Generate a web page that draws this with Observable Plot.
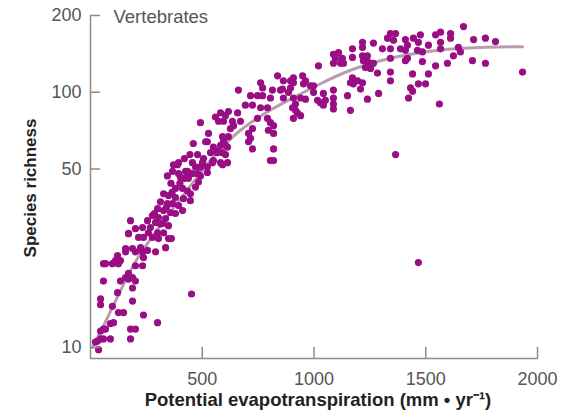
<!DOCTYPE html>
<html><head><meta charset="utf-8">
<script src="https://cdn.jsdelivr.net/npm/d3@7"></script>
<script src="https://cdn.jsdelivr.net/npm/@observablehq/plot@0.6"></script>
<style>body{margin:0;background:#fff}</style>
</head><body><div id="chart"></div>
<script>
// Potential evapotranspiration (mm/yr) and vertebrate species richness
const pet = [
  170,362,336,291,157,201,233,255,237,121,112,98,125,67,134,201,233,170,157,188,58,134,201,188,121,452,45,45,188,98,125,148,237,103,89,300,58,45,179,201,45,89,31,179,36,22,58,67,170,58,121,
  528,591,617,523,550,582,604,604,613,537,568,479,501,523,546,394,371,456,470,438,456,479,492,523,344,394,425,483,470,380,412,434,447,327,349,380,416,447,313,344,367,394,412,300,327,358,380,277,304,336,255,291,322,349,179,170,201,233,259,300,327,215,237,277,304,349,157,188,224,268,313,286,340,365,400,420,360,460,420,445,
  837,761,770,662,716,747,770,814,805,850,863,895,895,908,917,926,693,725,761,792,617,604,582,559,573,595,658,671,635,640,626,747,792,805,819,796,819,492,725,707,716,707,725,515,595,613,568,591,819,819,805,506,492,550,582,591,434,389,367,403,438,
  1342,1365,1329,1356,1217,1266,1217,1306,1342,1387,1418,1172,1172,1217,1239,1221,1244,1266,1087,1110,1096,1127,1087,1119,1132,1020,1342,1418,1409,1230,1253,1284,1342,1342,1172,1195,1163,1176,1217,1208,908,949,908,953,962,984,998,863,859,886,904,917,908,940,940,962,998,1016,1029,1042,1051,1042,1087,1087,1087,1087,1150,1239,1289,1163,1432,1423,
  1669,1566,1544,1611,1476,1445,1409,1467,1512,1566,1611,1714,1767,1812,1463,1485,1566,1646,1655,1624,1409,1485,1544,1597,1709,1767,1933,1441,1512,1467,1499,1441,1561,
  1365,1467
];
const richness = [
  28,26.7,24.6,23.7,23.7,23.7,23.7,24,22.5,22.9,21.9,21.3,21.3,21.3,21.9,20.9,20.9,19.5,18.8,18.8,18.2,18.2,18.2,17.1,16.4,16.2,15.5,14.7,15.2,14.5,13.7,13.7,13.4,12.5,12.4,12.5,11.8,11.6,11.8,11.8,10.8,10.8,10.6,10.8,9.8,10.5,10.8,11.8,18.5,21.3,21.5,
  69,67,67,64,61,62,62,57,53,58,58,57,53,51,53,53,52,53,51,48.5,48,48,47,48.5,47,48,49,44.5,42.5,42,42,41,40,40,39.4,38.7,38.3,37.6,37.2,36.6,36.6,36,34.4,35,34.4,33.8,33.5,32.9,32.3,32,31.4,30.9,30.6,30,31.4,27.9,29.2,29.5,28.1,28.1,28.1,27,27,27,26.7,26.7,24.4,24.4,24.6,29.5,30.5,33.5,35.5,40.5,44,46,44,63,55,57,
  116,109,104,102,97,97,97,102,95,102,95,111,104,95,90,83,89,89,87,87,84,81,83,80,77,77,83,77,77,74,72,79,79,76,74,71,69,76,72,69,66,64,60,64,64,61,59,58,60,54,54,55,51,54,53,52,49,52,49,46.5,46,
  170,170,163,160,157,156,150,148,148,148,153,148,137,139,139,133,131,130,141,143,136,136,130,130,130,127,136,136,146,125,124,119,120,111,114,111,109,108,109,103,114,116,109,108,111,106,106,111,103,100,87,85,79,81,95,94,100,93,91,99,93,89,102,95,90,86,97,94,99,85,104,95,
  181,172,168,170,168,163,161,157,153,157,163,161,163,158,146,144,148,150,144,139,133,132,127,130,133,130,120,118,118,108,108,101,90,
  57,21.5
];
// fitted trend line
const fitPet = [10,112,210,336,447,559,671,783,895,1029,1163,1297,1432,1588,1745,1933];
const fitRichness = [10,15.2,22.3,32,43,57,71,83,94,108,122,133,141,147,150,151];
const xTicks = [500,1000,1500,2000];
const yTicks = [10,50,100,200];
const yDomain = [9.05,200];
const xDomain = [0,2000];
const panelLabel = "Vertebrates";
const xTitle = "Potential evapotranspiration (mm \u2022 yr\u207B\u00B9)";
const yTitle = "Species richness";

const points = pet.map((x,i)=>({x, y: richness[i]}));
const fit = fitPet.map((x,i)=>({x, y: fitRichness[i]}));
const axisColor = "#8c8c8c";
const font = "'Liberation Sans', Arial, sans-serif";
const tickShape = {draw(context, l) { context.moveTo(0, 0); context.lineTo(0, -l); }};

const chart = Plot.plot({
  width: 573, height: 416,
  marginLeft: 90, marginRight: 36, marginTop: 15, marginBottom: 58,
  style: {fontFamily: font, background: "#fff", overflow: "visible"},
  x: {domain: xDomain},
  y: {type: "log", domain: yDomain},
  marks: [
    Plot.line(fit, {x: "x", y: "y", curve: "natural", stroke: "#b99cb0", strokeWidth: 3}),
    Plot.dot(points, {x: "x", y: "y", r: 3.6, fill: "#990e84"}),
    Plot.ruleX([xDomain[0]], {stroke: axisColor, strokeWidth: 1.5}),
    Plot.ruleY([yDomain[0]], {stroke: axisColor, strokeWidth: 1.5}),
    // inward tick marks
    Plot.vector(xTicks, {x: d => d, frameAnchor: "bottom", length: 11, rotate: 0, anchor: "start", shape: tickShape, stroke: axisColor, strokeWidth: 1.5}),
    Plot.vector(yTicks, {y: d => d, frameAnchor: "left", length: 9, rotate: 90, anchor: "start", shape: tickShape, stroke: axisColor, strokeWidth: 1.5}),
    Plot.axisX({ticks: xTicks, tickSize: 0, tickPadding: 14, label: null, fill: "#555", fontSize: 18, tickFormat: d => String(d)}),
    Plot.axisY({ticks: yTicks, tickSize: 0, tickPadding: 9, label: null, fill: "#555", fontSize: 18, tickFormat: d => String(d)}),
    Plot.text([xTitle], {text: d => d, frameAnchor: "bottom", dx: 4, dy: 47, fontSize: 18.5, fontWeight: "bold", fill: "#222"}),
    Plot.text([yTitle], {text: d => d, frameAnchor: "left", textAnchor: "middle", rotate: -90, dx: -60, dy: 1, fontSize: 17, fontWeight: "bold", fill: "#222"}),
    Plot.text([panelLabel], {text: d => d, frameAnchor: "top-left", dx: 23, dy: 2, textAnchor: "start", lineAnchor: "middle", fontSize: 18.5, fill: "#555"})
  ]
});
document.getElementById("chart").appendChild(chart);
</script>
</body></html>
